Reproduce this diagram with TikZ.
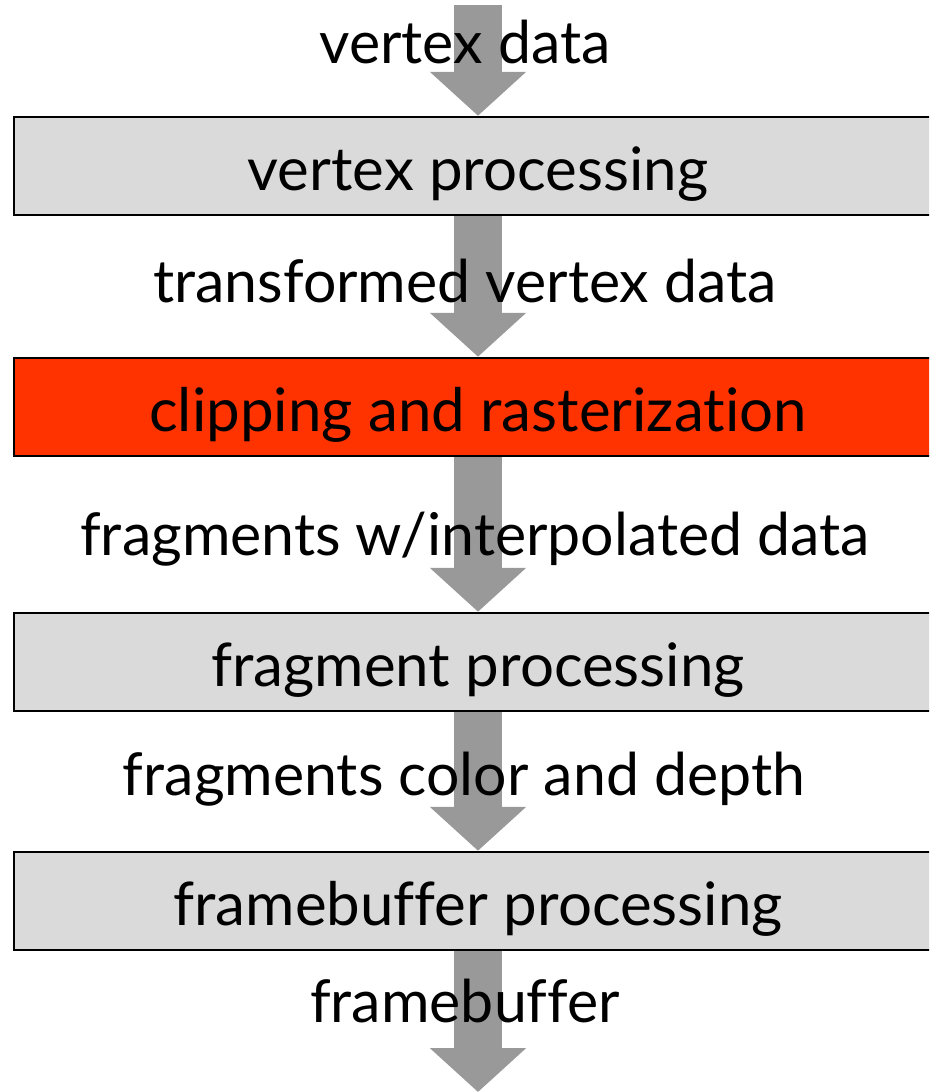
\documentclass[tikz,border=0pt]{standalone}
\usepackage{fontspec}
\setmainfont[Ligatures=NoCommon]{Lato}
\usetikzlibrary{arrows.meta,backgrounds}
\begin{document}
\begin{tikzpicture}[x=1pt,y=-1pt,
  stagebox/.style={draw=black, line width=2.5pt, fill=boxgray, minimum width=928pt,
    minimum height=98pt, inner sep=0pt, text height=48pt, text depth=0pt,
    font=\fontsize{60}{70}\selectfont},
  flowlabel/.style={anchor=base, inner sep=0pt, font=\fontsize{59}{70}\selectfont},
  flowarrow/.style={draw=arrowgray, line width=48pt,
    -{Triangle[width=94pt,length=44pt]}}]
\definecolor{boxgray}{HTML}{DADADA}
\definecolor{arrowgray}{HTML}{999999}
\definecolor{hotred}{HTML}{FF3300}
\useasboundingbox (0,0) rectangle (929,1092);
\clip (0,0) rectangle (929,1092);
% pipeline stages
\node[stagebox] (vp) at (478,166) {vertex processing};
\node[stagebox, fill=hotred] (cr) at (478,407) {clipping and rasterization};
\node[stagebox] (fp) at (478,662) {fragment processing};
\node[stagebox] (fbp) at (478,901) {framebuffer processing};
% data flowing between stages
\node[flowlabel] (l1) at (465,63) {vertex data};
\node[flowlabel] (l2) at (465,302) {transformed vertex data};
\node[flowlabel] (l3) at (475,555) {fragments w/interpolated data};
\node[flowlabel] (l4) at (464,795) {fragments color and depth};
\node[flowlabel] (l5) at (465,1022) {framebuffer};
\coordinate (in) at (478,5);
\coordinate (out) at (478,1092);
\begin{pgfonlayer}{background}
  \draw[flowarrow] (in) -- (vp.north);
  \draw[flowarrow] (vp.center) -- (cr.north);
  \draw[flowarrow] (cr.center) -- (fp.north);
  \draw[flowarrow] (fp.center) -- (fbp.north);
  \draw[flowarrow] (fbp.center) -- (out);
\end{pgfonlayer}
\end{tikzpicture}
\end{document}
